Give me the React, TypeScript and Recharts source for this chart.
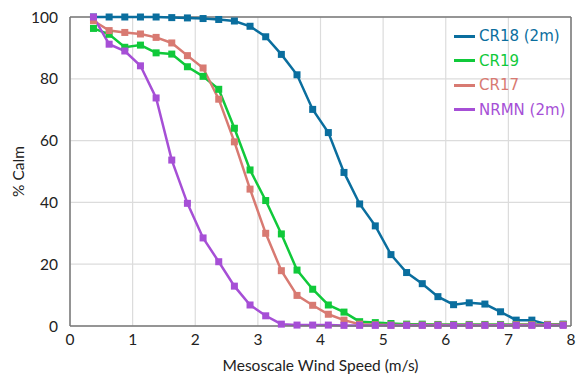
import { LineChart, Line, XAxis, YAxis, CartesianGrid, ReferenceLine } from "recharts";

const windSpeed = [
  0.375, 0.625, 0.875, 1.125, 1.375, 1.625, 1.875, 2.125, 2.375, 2.625, 2.875, 3.125, 3.375, 3.625, 3.875, 4.125,
  4.375, 4.625, 4.875, 5.125, 5.375, 5.625, 5.875, 6.125, 6.375, 6.625, 6.875, 7.125, 7.375, 7.625, 7.875,
];

const cr18 = [
  100, 100, 100, 100, 100, 99.8, 99.7, 99.5, 99.2, 98.7, 97, 93.6, 87.9, 81.3, 70.1, 62.6,
  49.7, 39.5, 32.4, 23.1, 17.3, 13.7, 9.5, 6.9, 7.5, 7.1, 4.6, 1.9, 1.9, 0.5, 0.6,
];
const cr19 = [
  96.3, 94.4, 90.2, 90.9, 88.4, 88, 83.9, 80.8, 76.6, 64, 50.5, 40.6, 29.8, 18.1, 11.9, 6.8,
  4.5, 1.4, 1.1, 0.8, 0.6, 0.6, 0.5, 0.5, 0.5, 0.5, 0.5, 0.5, 0.5, 0.5, 0.5,
];
const cr17 = [
  98.8, 95.6, 95, 94.5, 93.4, 91.6, 87.5, 83.5, 73.4, 59.6, 44.3, 30, 17.9, 9.9, 6.7, 3.8,
  1.9, 0.6, 0.4, 0.3, 0.3, 0.3, 0.3, 0.3, 0.3, 0.3, 0.3, 0.4, 0.4, 0.4, 0.4,
];
const nrmn = [
  100, 91.2, 89, 84.2, 73.8, 53.7, 39.7, 28.5, 20.8, 12.9, 6.8, 3.3, 0.6, 0.3, 0.3, 0.3,
  0.2, 0.2, 0.2, 0.2, 0.2, 0.2, 0.2, 0.2, 0.2, 0.2, 0.2, 0.2, 0.2, 0.2, 0.2,
];

const xTicks = [0, 1, 2, 3, 4, 5, 6, 7, 8];
const yTicks = [0, 20, 40, 60, 80, 100];

const series = [
  { key: "cr18", name: "CR18 (2m)", color: "#0a6e9e" },
  { key: "cr19", name: "CR19", color: "#10c93a" },
  { key: "cr17", name: "CR17", color: "#d87a72" },
  { key: "nrmn", name: "NRMN (2m)", color: "#a64fd6" },
];

const data = windSpeed.map((x, i) => ({
  x,
  cr18: cr18[i],
  cr19: cr19[i],
  cr17: cr17[i],
  nrmn: nrmn[i],
}));

const tickStyle = { fill: "#222", fontSize: 15.5, fontFamily: "Lato" };

const squareDot = (color: string) => (props: any) => {
  const { cx, cy, index } = props;
  if (cx == null || cy == null) return <g key={index} />;
  return <rect key={index} x={cx - 3.5} y={cy - 3.5} width={7} height={7} fill={color} />;
};

// legend sits inside the plot, top right
const LegendBox = () => (
  <div style={{ position: "absolute", left: 454, top: 24, fontFamily: "DejaVu Sans", fontSize: 15 }}>
    {series.map((s) => (
      <div key={s.key} style={{ display: "flex", alignItems: "center", height: 24.5 }}>
        <div style={{ width: 21, height: 3, background: s.color, marginRight: 4 }} />
        <span style={{ color: s.color }}>{s.name}</span>
      </div>
    ))}
  </div>
);

export default function App() {
  return (
    <div style={{ position: "relative", width: 576, height: 374, background: "#fff" }}>
      <style>{`body{margin:0}`}</style>
      <LineChart width={576} height={374} data={data} margin={{ top: 17, right: 5, bottom: 0, left: 0 }}>
        <CartesianGrid stroke="#dcdcdc" strokeWidth={1.2} />
        <XAxis
          dataKey="x"
          type="number"
          domain={[0, 8]}
          ticks={xTicks}
          tick={tickStyle}
          tickLine={false}
          axisLine={{ stroke: "#777", strokeWidth: 1.5 }}
          height={48}
          tickMargin={2}
          label={{ value: "Mesoscale Wind Speed (m/s)", position: "insideBottom", offset: 3, style: { fill: "#222", fontSize: 15.5, fontFamily: "Lato" } }}
        />
        <YAxis
          type="number"
          domain={[0, 100]}
          ticks={yTicks}
          tick={tickStyle}
          tickLine={false}
          axisLine={{ stroke: "#777", strokeWidth: 1.5 }}
          width={70}
          tickMargin={6}
          label={{ value: "% Calm", angle: -90, position: "insideLeft", offset: 18, style: { fill: "#222", fontSize: 15.5, fontFamily: "Lato", textAnchor: "middle" } }}
        />
        <ReferenceLine y={100} stroke="#777" strokeWidth={1.5} />
        <ReferenceLine x={8} stroke="#777" strokeWidth={1.5} />
        {series.map((s) => (
          <Line
            key={s.key}
            dataKey={s.key}
            name={s.name}
            stroke={s.color}
            strokeWidth={2.5}
            dot={squareDot(s.color)}
            isAnimationActive={false}
          />
        ))}
      </LineChart>
      <LegendBox />
    </div>
  );
}
